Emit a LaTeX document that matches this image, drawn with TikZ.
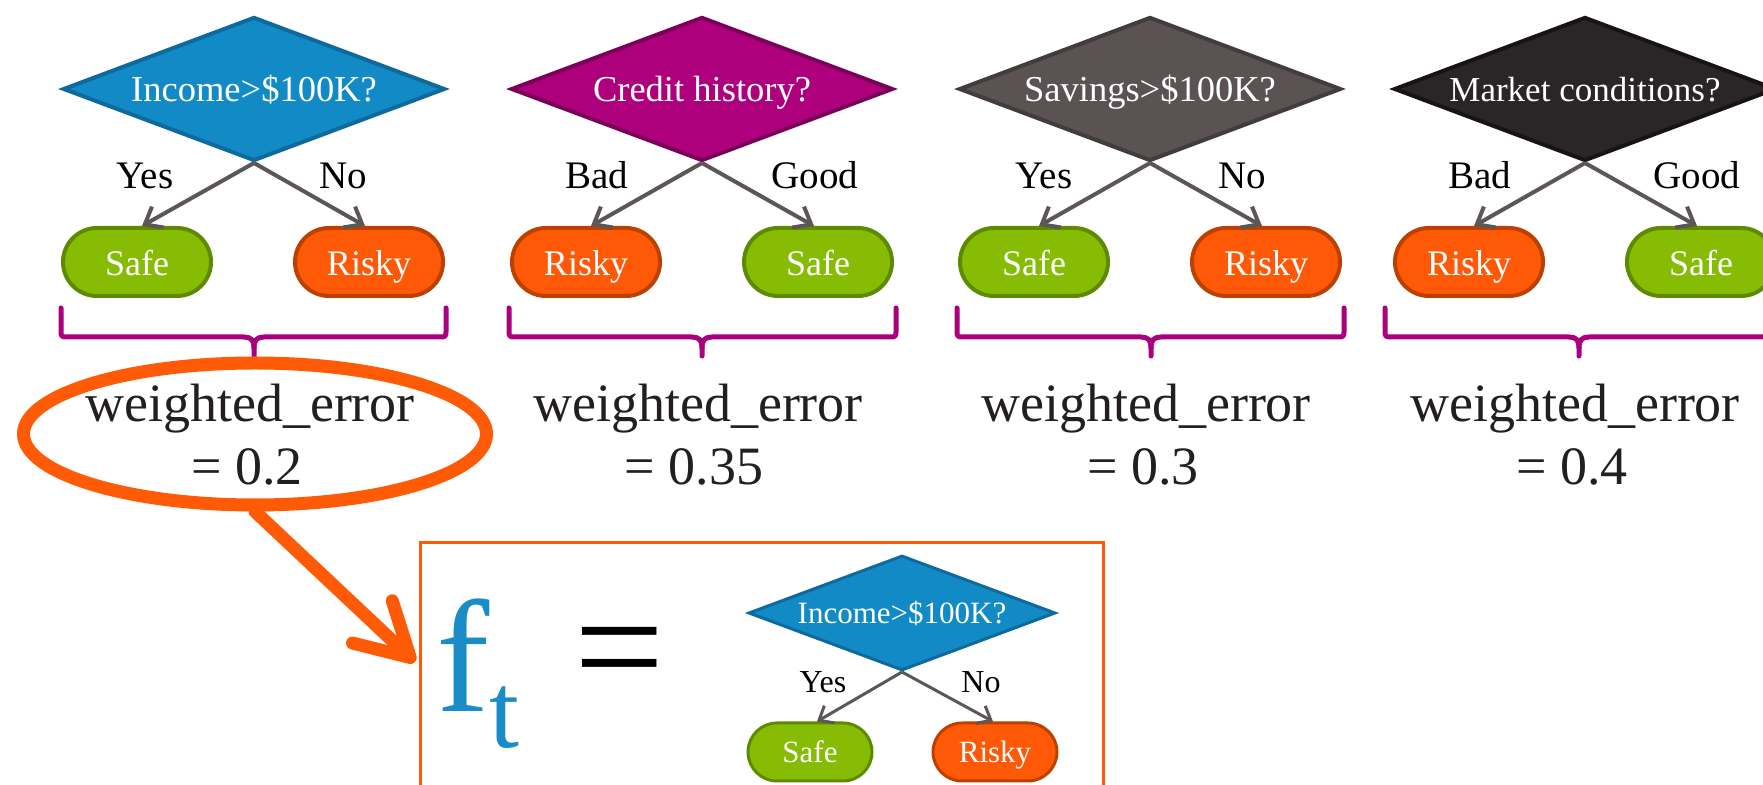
\documentclass[tikz,border=0pt]{standalone}
\usepackage{fontspec}
\setmainfont{Liberation Serif}
\usetikzlibrary{shapes.geometric,arrows.meta}
\definecolor{dblue}{HTML}{128AC6}
\definecolor{dblueD}{HTML}{0E6A9C}
\definecolor{dmag}{HTML}{AE007D}
\definecolor{dmagD}{HTML}{7A005A}
\definecolor{dgray}{HTML}{5A5253}
\definecolor{dgrayD}{HTML}{423C3D}
\definecolor{dblack}{HTML}{2A2526}
\definecolor{dblackD}{HTML}{181415}
\definecolor{safeF}{HTML}{86BC04}
\definecolor{safeD}{HTML}{5E8A00}
\definecolor{riskF}{HTML}{FF5806}
\definecolor{riskD}{HTML}{BC4000}
\definecolor{braceC}{HTML}{A8007F}
\definecolor{orng}{HTML}{FF5A06}
\definecolor{conn}{HTML}{5C5657}
\definecolor{txt}{HTML}{231F20}
\definecolor{fblue}{HTML}{1A8CC8}
\newcommand{\myfs}[1]{\fontsize{#1}{#1}\selectfont}
\newcommand{\mybrace}[3]{%
  \draw[bracepath] (#1,308) -- (#1,332) .. controls (#1,336) and ({#1+1},337) .. ({#1+5},337) -- ({#2-10},337) .. controls ({#2-3},337) and (#2,340) .. (#2,348) -- (#2,356);
  \draw[bracepath] (#3,308) -- (#3,332) .. controls (#3,336) and ({#3-1},337) .. ({#3-5},337) -- ({#2+10},337) .. controls ({#2+3},337) and (#2,340) .. (#2,348);}
\begin{document}
\begin{tikzpicture}[x=0.5pt,y=-0.5pt,
  question/.style={shape=diamond, aspect=2.6, inner sep=0pt, text height=13pt, text depth=0pt, minimum width=191pt, minimum height=72pt, line width=2pt, text=white, font=\myfs{18.25pt}},
  smallq/.style={shape=diamond, aspect=2.67, inner sep=0pt, text height=10.5pt, text depth=0pt, minimum width=153.5pt, minimum height=57.5pt, line width=1.5pt, text=white, font=\myfs{15.5pt}, fill=dblue, draw=dblueD},
  leaf/.style={rectangle, rounded corners=17pt, minimum width=74pt, minimum height=34pt, inner sep=0pt, text height=14pt, text depth=0pt, line width=2pt, text=white, font=\myfs{18pt}},
  smallleaf/.style={rectangle, rounded corners=14.5pt, minimum width=62pt, minimum height=29pt, inner sep=0pt, text height=10.5pt, text depth=0pt, line width=1.5pt, text=white, font=\myfs{15.5pt}},
  safe/.style={leaf, fill=safeF, draw=safeD},
  risky/.style={leaf, fill=riskF, draw=riskD},
  ssafe/.style={smallleaf, fill=safeF, draw=safeD},
  srisky/.style={smallleaf, fill=riskF, draw=riskD},
  edgelab/.style={anchor=base, inner sep=0pt, font=\myfs{19.5pt}},
  sedgelab/.style={anchor=base, inner sep=0pt, font=\myfs{16pt}},
  branch/.style={draw=conn, line width=2pt, -{Straight Barb[length=7.5pt,width=12pt]}},
  sbranch/.style={draw=conn, line width=1.5pt, -{Straight Barb[length=6pt,width=10pt]}},
  bracepath/.style={draw=braceC, line width=2.5pt, line join=round, line cap=round},
  errtxt/.style={anchor=base, inner sep=0pt, text=txt, font=\myfs{27pt}},
  ringstyle/.style={shape=ellipse, draw=orng, line width=6.5pt, minimum width=231.5pt, minimum height=71pt, inner sep=0pt},
  bigarrow/.style={draw=orng, line width=6.5pt, line cap=round, -{Straight Barb[length=26pt,width=29pt,round]}},
  framebox/.style={draw=orng, line width=1.5pt, anchor=north west, minimum width=341.5pt, minimum height=160pt, inner sep=0pt}
]
\useasboundingbox (0,0) rectangle (1763,785);
\clip (0,0) rectangle (1763,785);

% ---- tree 1
\node[question, fill=dblue, draw=dblueD] (q1) at (254,89) {Income>\$100K?};
\node[safe] (s1) at (137,262) {Safe};
\node[risky] (r1) at (369,262) {Risky};
\draw[branch] (q1.south) -- ([xshift=2.5pt]s1.north);
\draw[branch] (q1.south) -- ([xshift=-2pt]r1.north);
\node[edgelab] (y1) at (145,189) {Yes};
\node[edgelab] (n1) at (343,189) {No};
\mybrace{61}{254}{446}
\node[errtxt] (e1) at (250,422) {weighted\_error};
\node[errtxt] (v1) at (247,485) {= 0.2};

% ---- tree 2
\node[question, fill=dmag, draw=dmagD] (q2) at (702,89) {Credit history?};
\node[risky] (r2) at (586,262) {Risky};
\node[safe] (s2) at (818,262) {Safe};
\draw[branch] (q2.south) -- ([xshift=2.5pt]r2.north);
\draw[branch] (q2.south) -- ([xshift=-2pt]s2.north);
\node[edgelab] (b2) at (597,189) {Bad};
\node[edgelab] (g2) at (815,189) {Good};
\mybrace{509}{702}{896}
\node[errtxt] (e2) at (698,422) {weighted\_error};
\node[errtxt] (v2) at (694,485) {= 0.35};

% ---- tree 3
\node[question, fill=dgray, draw=dgrayD] (q3) at (1150,89) {Savings>\$100K?};
\node[safe] (s3) at (1034,262) {Safe};
\node[risky] (r3) at (1266,262) {Risky};
\draw[branch] (q3.south) -- ([xshift=2.5pt]s3.north);
\draw[branch] (q3.south) -- ([xshift=-2pt]r3.north);
\node[edgelab] (y3) at (1044,189) {Yes};
\node[edgelab] (n3) at (1242,189) {No};
\mybrace{957}{1151}{1344}
\node[errtxt] (e3) at (1146,422) {weighted\_error};
\node[errtxt] (v3) at (1143,485) {= 0.3};

% ---- tree 4
\node[question, fill=dblack, draw=dblackD, font=\myfs{17.5pt}] (q4) at (1585,89) {Market conditions?};
\node[risky] (r4) at (1469,262) {Risky};
\node[safe] (s4) at (1701,262) {Safe};
\draw[branch] (q4.south) -- ([xshift=2.5pt]r4.north);
\draw[branch] (q4.south) -- ([xshift=-2pt]s4.north);
\node[edgelab] (b4) at (1480,189) {Bad};
\node[edgelab] (g4) at (1697,189) {Good};
\mybrace{1385}{1579}{1772}
\node[errtxt] (e4) at (1575,422) {weighted\_error};
\node[errtxt] (v4) at (1572,485) {= 0.4};

% ---- highlight and selected tree
\node[ringstyle] (ring) at (255,434) {};
\node[framebox] (box) at (419,541) {};
\coordinate (tip) at (415,662);
\draw[bigarrow] (ring.south) -- (tip);

\node[anchor=base west, inner sep=0pt, text=fblue, font=\myfs{80pt}] (ft) at (436,712) {f\raisebox{-18pt}{\myfs{54pt}t}};
\node[anchor=base, inner sep=0pt, font=\myfs{80pt}] (eq) at (620,701) {=};

\node[smallq] (q5) at (902,613) {Income>\$100K?};
\node[ssafe] (s5) at (810,752) {Safe};
\node[srisky] (r5) at (995,752) {Risky};
\draw[sbranch] (q5.south) -- ([xshift=3.5pt]s5.north);
\draw[sbranch] (q5.south) -- ([xshift=-1pt]r5.north);
\node[sedgelab] (y5) at (823,693) {Yes};
\node[sedgelab] (n5) at (981,693) {No};
\end{tikzpicture}
\end{document}
